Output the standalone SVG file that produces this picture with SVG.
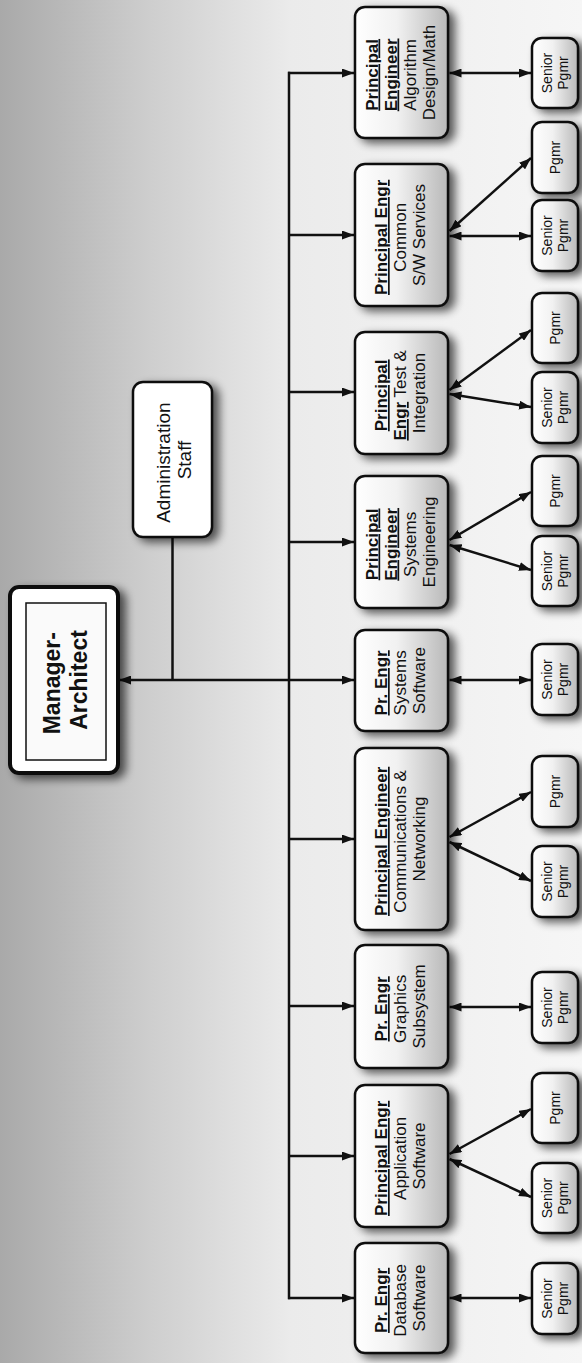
<svg xmlns="http://www.w3.org/2000/svg" width="582" height="1363" viewBox="0 0 582 1363">
  <defs>
    <linearGradient id="bg" x1="0" y1="0" x2="1" y2="0">
      <stop offset="0" stop-color="#a9a9a9"/>
      <stop offset="0.25" stop-color="#cdcdcd"/>
      <stop offset="0.5" stop-color="#ebebeb"/>
      <stop offset="1" stop-color="#f6f6f6"/>
    </linearGradient>
    <linearGradient id="boxfill" x1="0" y1="0" x2="1" y2="0">
      <stop offset="0" stop-color="#ffffff"/>
      <stop offset="0.45" stop-color="#f1f1f1"/>
      <stop offset="1" stop-color="#b9b9b9"/>
    </linearGradient>
    <filter id="shadow" x="-30%" y="-30%" width="170%" height="160%">
      <feGaussianBlur in="SourceAlpha" stdDeviation="5"/>
      <feOffset dx="6" dy="4"/>
      <feComponentTransfer><feFuncA type="linear" slope="0.65"/></feComponentTransfer>
      <feMerge><feMergeNode/><feMergeNode in="SourceGraphic"/></feMerge>
    </filter>
    <marker id="arrow" viewBox="0 0 12 9" refX="12" refY="4.5" markerWidth="12" markerHeight="9" markerUnits="userSpaceOnUse" orient="auto-start-reverse">
      <path d="M0,0 L12,4.5 L0,9 z" fill="#111"/>
    </marker>
    <style>
      .box { fill: url(#boxfill); stroke: #111; stroke-width: 2.5; filter: url(#shadow); }
      .plain { fill: #ffffff; stroke: #111; stroke-width: 2.5; filter: url(#shadow); }
      .t { font-family: "Liberation Sans", Arial, sans-serif; fill: #111; text-anchor: middle; }
      .pe { font-size: 17px; }
      .sp { font-size: 14px; }
      .b { font-weight: bold; text-decoration: underline; }
      .wire { fill: none; stroke: #111; stroke-width: 2.5; }
      .bi { fill: none; stroke: #111; stroke-width: 2.5; marker-start: url(#arrow); marker-end: url(#arrow); }
      .to { fill: none; stroke: #111; stroke-width: 2.5; marker-end: url(#arrow); }
    </style>
  </defs>

  <rect x="0" y="0" width="582" height="1363" fill="url(#bg)"/>

  <!-- connectors -->
  <g id="connectors">
    <path class="wire" d="M289,71.8 V1299.2"/>
    <path class="wire" stroke-width="2" d="M172.5,537 V680"/>
    <path class="to" d="M289,680 H119"/>
    <path class="to" d="M288,73 H354"/>
    <path class="to" d="M288,235 H354"/>
    <path class="to" d="M288,392 H354"/>
    <path class="to" d="M288,542 H354"/>
    <path class="to" d="M289,680 H354"/>
    <path class="to" d="M288,839 H354"/>
    <path class="to" d="M288,1006 H354"/>
    <path class="to" d="M288,1156 H354"/>
    <path class="to" d="M288,1298 H354"/>
    <!-- principal engineer to programmers -->
    <path class="bi" d="M449.5,73 L531,73"/>
    <path class="bi" d="M449.5,231 L531,158"/>
    <path class="bi" d="M449.5,236 L531,236"/>
    <path class="bi" d="M449.5,390 L531,330"/>
    <path class="bi" d="M449.5,394 L531,407"/>
    <path class="bi" d="M449.5,540 L531,492"/>
    <path class="bi" d="M449.5,545 L531,570"/>
    <path class="bi" d="M449.5,680 L531,680"/>
    <path class="bi" d="M449.5,837 L531,792"/>
    <path class="bi" d="M449.5,842 L531,881"/>
    <path class="bi" d="M449.5,1007 L531,1007"/>
    <path class="bi" d="M449.5,1154 L531,1109"/>
    <path class="bi" d="M449.5,1159 L531,1197"/>
    <path class="bi" d="M449.5,1298 L531,1298"/>
  </g>

  <!-- manager -->
  <g id="manager">
    <rect x="10" y="587" width="108" height="186" rx="9" fill="#fff" stroke="#111" stroke-width="4" filter="url(#shadow)"/>
    <rect x="26" y="603" width="80" height="157" fill="#fafafa" stroke="#111" stroke-width="1.5"/>
    <text class="t" font-size="23" font-weight="bold" transform="translate(66,680) rotate(-90)">
      <tspan x="0" y="-6">Manager-</tspan>
      <tspan x="0" y="21">Architect</tspan>
    </text>
  </g>

  <!-- administration -->
  <g id="admin">
    <rect class="plain" x="133" y="382" width="79" height="155" rx="10"/>
    <text class="t" font-size="19" transform="translate(172.5,460) rotate(-90)">
      <tspan x="0" y="-3">Administration</tspan>
      <tspan x="0" y="18">Staff</tspan>
    </text>
  </g>

  <!-- principal engineers -->
  <g id="pe-algorithm">
    <rect class="box" x="355" y="7" width="93" height="131" rx="10"/>
    <text class="t pe" transform="translate(400,72.5) rotate(-90)">
      <tspan x="0" y="-22.5" class="b">Principal</tspan>
      <tspan x="0" y="-3.5" class="b">Engineer</tspan>
      <tspan x="0" y="15.5">Algorithm</tspan>
      <tspan x="0" y="34.5">Design/Math</tspan>
    </text>
  </g>
  <g id="pe-common">
    <rect class="box" x="355" y="164" width="93" height="142" rx="10"/>
    <text class="t pe" transform="translate(400,235) rotate(-90)">
      <tspan x="0" y="-13" class="b">Principal Engr</tspan>
      <tspan x="0" y="6">Common</tspan>
      <tspan x="0" y="25">S/W Services</tspan>
    </text>
  </g>
  <g id="pe-test">
    <rect class="box" x="355" y="332" width="93" height="122" rx="10"/>
    <text class="t pe" transform="translate(400,393) rotate(-90)">
      <tspan x="0" y="-13" class="b">Principal</tspan>
      <tspan x="0" y="6"><tspan class="b">Engr</tspan> Test &amp;</tspan>
      <tspan x="0" y="25">Integration</tspan>
    </text>
  </g>
  <g id="pe-syseng">
    <rect class="box" x="355" y="476" width="93" height="132" rx="10"/>
    <text class="t pe" transform="translate(400,542) rotate(-90)">
      <tspan x="0" y="-22.5" class="b">Principal</tspan>
      <tspan x="0" y="-3.5" class="b">Engineer</tspan>
      <tspan x="0" y="15.5">Systems</tspan>
      <tspan x="0" y="34.5">Engineering</tspan>
    </text>
  </g>
  <g id="pe-syssw">
    <rect class="box" x="355" y="630" width="93" height="101" rx="10"/>
    <text class="t pe" transform="translate(400,680.5) rotate(-90)">
      <tspan x="0" y="-13" class="b">Pr. Engr</tspan>
      <tspan x="0" y="6">Systems</tspan>
      <tspan x="0" y="25">Software</tspan>
    </text>
  </g>
  <g id="pe-comm">
    <rect class="box" x="355" y="748" width="93" height="182" rx="10"/>
    <text class="t pe" transform="translate(400,839) rotate(-90)">
      <tspan x="0" y="-13" class="b">Principal Engineer</tspan>
      <tspan x="0" y="6">Communications &amp;</tspan>
      <tspan x="0" y="25">Networking</tspan>
    </text>
  </g>
  <g id="pe-graphics">
    <rect class="box" x="355" y="945" width="93" height="123" rx="10"/>
    <text class="t pe" transform="translate(400,1006.5) rotate(-90)">
      <tspan x="0" y="-13" class="b">Pr. Engr</tspan>
      <tspan x="0" y="6">Graphics</tspan>
      <tspan x="0" y="25">Subsystem</tspan>
    </text>
  </g>
  <g id="pe-application">
    <rect class="box" x="355" y="1085" width="93" height="142" rx="10"/>
    <text class="t pe" transform="translate(400,1156) rotate(-90)">
      <tspan x="0" y="-13" class="b">Principal Engr</tspan>
      <tspan x="0" y="6">Application</tspan>
      <tspan x="0" y="25">Software</tspan>
    </text>
  </g>
  <g id="pe-database">
    <rect class="box" x="355" y="1243" width="93" height="110" rx="10"/>
    <text class="t pe" transform="translate(400,1298) rotate(-90)">
      <tspan x="0" y="-13" class="b">Pr. Engr</tspan>
      <tspan x="0" y="6">Database</tspan>
      <tspan x="0" y="25">Software</tspan>
    </text>
  </g>

  <!-- programmers -->
  <g id="sp-algorithm">
    <rect class="box" x="532" y="38" width="46" height="70" rx="10"/>
    <text class="t sp" transform="translate(555,73) rotate(-90)"><tspan x="0" y="-3">Senior</tspan><tspan x="0" y="13">Pgmr</tspan></text>
  </g>
  <g id="pg-common">
    <rect class="box" x="532" y="122" width="46" height="71" rx="10"/>
    <text class="t sp" transform="translate(555,157.5) rotate(-90)"><tspan x="0" y="5">Pgmr</tspan></text>
  </g>
  <g id="sp-common">
    <rect class="box" x="532" y="200" width="46" height="71" rx="10"/>
    <text class="t sp" transform="translate(555,235.5) rotate(-90)"><tspan x="0" y="-3">Senior</tspan><tspan x="0" y="13">Pgmr</tspan></text>
  </g>
  <g id="pg-test">
    <rect class="box" x="532" y="293" width="46" height="70" rx="10"/>
    <text class="t sp" transform="translate(555,328) rotate(-90)"><tspan x="0" y="5">Pgmr</tspan></text>
  </g>
  <g id="sp-test">
    <rect class="box" x="532" y="372" width="46" height="71" rx="10"/>
    <text class="t sp" transform="translate(555,407.5) rotate(-90)"><tspan x="0" y="-3">Senior</tspan><tspan x="0" y="13">Pgmr</tspan></text>
  </g>
  <g id="pg-syseng">
    <rect class="box" x="532" y="456" width="46" height="70" rx="10"/>
    <text class="t sp" transform="translate(555,491) rotate(-90)"><tspan x="0" y="5">Pgmr</tspan></text>
  </g>
  <g id="sp-syseng">
    <rect class="box" x="532" y="536" width="46" height="70" rx="10"/>
    <text class="t sp" transform="translate(555,571) rotate(-90)"><tspan x="0" y="-3">Senior</tspan><tspan x="0" y="13">Pgmr</tspan></text>
  </g>
  <g id="sp-syssw">
    <rect class="box" x="532" y="644" width="46" height="71" rx="10"/>
    <text class="t sp" transform="translate(555,679.5) rotate(-90)"><tspan x="0" y="-3">Senior</tspan><tspan x="0" y="13">Pgmr</tspan></text>
  </g>
  <g id="pg-comm">
    <rect class="box" x="532" y="756" width="46" height="71" rx="10"/>
    <text class="t sp" transform="translate(555,791.5) rotate(-90)"><tspan x="0" y="5">Pgmr</tspan></text>
  </g>
  <g id="sp-comm">
    <rect class="box" x="532" y="846" width="46" height="71" rx="10"/>
    <text class="t sp" transform="translate(555,881.5) rotate(-90)"><tspan x="0" y="-3">Senior</tspan><tspan x="0" y="13">Pgmr</tspan></text>
  </g>
  <g id="sp-graphics">
    <rect class="box" x="532" y="972" width="46" height="71" rx="10"/>
    <text class="t sp" transform="translate(555,1007.5) rotate(-90)"><tspan x="0" y="-3">Senior</tspan><tspan x="0" y="13">Pgmr</tspan></text>
  </g>
  <g id="pg-application">
    <rect class="box" x="532" y="1073" width="46" height="70" rx="10"/>
    <text class="t sp" transform="translate(555,1108) rotate(-90)"><tspan x="0" y="5">Pgmr</tspan></text>
  </g>
  <g id="sp-application">
    <rect class="box" x="532" y="1163" width="46" height="70" rx="10"/>
    <text class="t sp" transform="translate(555,1198) rotate(-90)"><tspan x="0" y="-3">Senior</tspan><tspan x="0" y="13">Pgmr</tspan></text>
  </g>
  <g id="sp-database">
    <rect class="box" x="532" y="1263" width="46" height="71" rx="10"/>
    <text class="t sp" transform="translate(555,1298.5) rotate(-90)"><tspan x="0" y="-3">Senior</tspan><tspan x="0" y="13">Pgmr</tspan></text>
  </g>
</svg>
